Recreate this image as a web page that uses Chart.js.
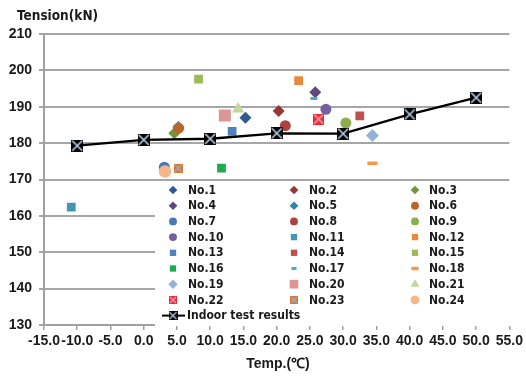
<!DOCTYPE html>
<html><head><meta charset="utf-8">
<script src="https://cdn.jsdelivr.net/npm/chart.js@4.4.1/dist/chart.umd.min.js"></script>
<style>html,body{margin:0;padding:0;background:#fff}#wrap{width:526px;height:385px;position:relative}</style>
</head><body><div id="wrap"><canvas id="c" width="526" height="385"></canvas></div>
<script>
const NARROW = "'Liberation Sans Narrow','DejaVu Sans Condensed','Liberation Sans',sans-serif";
const SANS = "'Liberation Sans',Arial,sans-serif";

// indoor test results (line)
const indoorTemp = [-10, 0, 10, 20, 30, 40, 50];
const indoorTension = [179.3, 180.9, 181.2, 182.7, 182.6, 187.9, 192.5];

// field records No.1 .. No.24
const fieldNames = ["No.1","No.2","No.3","No.4","No.5","No.6","No.7","No.8","No.9","No.10","No.11","No.12",
  "No.13","No.14","No.15","No.16","No.17","No.18","No.19","No.20","No.21","No.22","No.23","No.24"];
const fieldTemp = [15.3, 20.3, 4.6, 25.8, 5.2, 5.25, 3.1, 21.3, 30.4, 27.4, -10.9, 23.3,
  13.3, 32.5, 8.25, 11.7, 25.6, 34.4, 34.4, 12.2, 14.2, 26.3, 5.2, 3.2];
const fieldTension = [187.0, 188.8, 182.7, 194.0, 184.4, 184.1, 173.4, 184.8, 185.5, 189.3, 162.4, 197.2,
  183.2, 187.5, 197.6, 173.1, 192.3, 174.5, 182.1, 187.6, 189.4, 186.6, 173.1, 172.2];

// axes
const xMin = -15, xMax = 55, xStep = 5;
const yMin = 130, yMax = 210, yStep = 10;

// small "square with X" markers
function xSquare(size, fill, cross){
  const c = document.createElement("canvas");
  c.width = size; c.height = size;
  const g = c.getContext("2d");
  g.fillStyle = fill; g.fillRect(0,0,size,size);
  g.strokeStyle = cross; g.lineWidth = Math.max(1.2, size/7);
  g.beginPath(); g.moveTo(1,1); g.lineTo(size-1,size-1); g.moveTo(size-1,1); g.lineTo(1,size-1); g.stroke();
  return c;
}
const img22 = xSquare(11, "#f42a2a", "#d9a6c9");
const img23 = xSquare(9, "#dc762c", "#8db4e2");
const imgIndoor = xSquare(12, "#000000", "#b8cce4");
const img22s = xSquare(8, "#f42a2a", "#d9a6c9");
const img23s = xSquare(8, "#dc762c", "#8db4e2");
const imgIndoorS = xSquare(9, "#000000", "#b8cce4");

// marker look per series (style only)
const marks = [
  {s:"rectRot", r:6, c:"#2f5b8f"}, {s:"rectRot", r:6, c:"#953735"}, {s:"rectRot", r:6, c:"#76923c"},
  {s:"rectRot", r:6, c:"#5f497a"}, {s:"rectRot", r:6, c:"#31859c"}, {s:"circle", r:5.5, c:"#b8662a"},
  {s:"circle", r:5.5, c:"#4a78b4"}, {s:"circle", r:5.5, c:"#ac4340"}, {s:"circle", r:5.5, c:"#8cae4c"},
  {s:"circle", r:5.5, c:"#7660a0"}, {s:"rect", r:6.2, c:"#4197ae"}, {s:"rect", r:6.2, c:"#e8893f"},
  {s:"rect", r:6.2, c:"#4f81bd"}, {s:"rect", r:6.2, c:"#c0504d"}, {s:"rect", r:6.2, c:"#9bbb59"},
  {s:"rect", r:6.2, c:"#1faa50"}, {s:"line", r:3.5, c:"#4bacc6", bw:3}, {s:"line", r:5, c:"#f79646", bw:3.5},
  {s:"rectRot", r:6.5, c:"#95b3d7"}, {s:"rect", r:8.5, c:"#d99694"}, {s:"triangle", r:7, c:"#c3d69b"},
  {s:img22, r:6, c:"#f42a2a", img:img22s}, {s:img23, r:5, c:"#dc762c", img:img23s}, {s:"circle", r:6.2, c:"#f6b58b"}
];

const datasets = fieldNames.map((name,i)=>({
  type:"scatter",
  label:name,
  data:[{x:fieldTemp[i], y:fieldTension[i]}],
  pointStyle:marks[i].s,
  pointRadius:marks[i].r,
  pointHoverRadius:marks[i].r,
  pointBackgroundColor:marks[i].c,
  pointBorderColor:marks[i].c,
  pointBorderWidth:marks[i].bw || 0,
  order:-i
}));
datasets.push({
  type:"line",
  label:"Indoor test results",
  data:indoorTemp.map((t,i)=>({x:t, y:indoorTension[i]})),
  borderColor:"#000", borderWidth:2.3, tension:0, fill:false,
  pointStyle:imgIndoor, pointRadius:6, pointHoverRadius:6,
  order:-40
});

function drawMark(ctx, m, x, y){
  if (m.img){ ctx.drawImage(m.img, x - m.img.width/2, y - m.img.height/2); return; }
  ctx.fillStyle = m.c; ctx.strokeStyle = m.c; ctx.lineWidth = m.bw || 0;
  Chart.helpers.drawPoint(ctx, {pointStyle:m.s, radius:m.r*0.72, rotation:0, borderWidth:m.bw || 0}, x, y);
}

const boxLegend = {
  id:"boxLegend",
  afterDraw(chart){
    const ctx = chart.ctx;
    ctx.save();
    ctx.fillStyle = "#fff";
    ctx.fillRect(155, 182, 362, 144);
    const colMark = [173, 294, 415], colText = [188, 309, 429];
    ctx.font = "bold 12px " + NARROW;
    ctx.textBaseline = "middle";
    fieldNames.forEach((n,i)=>{
      const col = i % 3, row = Math.floor(i/3);
      const y = 190 + row*15.7;
      drawMark(ctx, marks[i], colMark[col], y);
      ctx.fillStyle = "#1a1a1a";
      ctx.fillText(n, colText[col], y + 0.5);
    });
    const yi = 190 + 8*15.7;
    ctx.strokeStyle = "#000"; ctx.lineWidth = 2;
    ctx.beginPath(); ctx.moveTo(162, yi); ctx.lineTo(185, yi); ctx.stroke();
    ctx.drawImage(imgIndoorS, 173 - 4.5, yi - 4.5);
    ctx.fillStyle = "#1a1a1a";
    ctx.fillText("Indoor test results", 187, yi);

    // axis titles
    ctx.font = "bold 13.5px " + NARROW;
    ctx.textBaseline = "middle"; ctx.textAlign = "left";
    ctx.fillText("Tension(kN)", 17, 16);
    ctx.font = "bold 14px " + SANS;
    ctx.textAlign = "center";
    ctx.fillText("Temp.(\u2103)", 278, 364);
    ctx.restore();
  }
};

new Chart(document.getElementById("c"), {
  data:{datasets},
  options:{
    responsive:false, animation:false,
    layout:{padding:{top:34, right:14, left:0, bottom:0}},
    plugins:{legend:{display:false}, tooltip:{enabled:false}},
    scales:{
      x:{type:"linear", min:xMin, max:xMax,
        ticks:{stepSize:xStep, autoSkip:false, maxRotation:0, padding:3, color:"#1a1a1a",
          font:{family:SANS, size:14, weight:"bold"}, callback:v=>v.toFixed(1)},
        grid:{display:true, drawOnChartArea:false, drawTicks:true, tickLength:5, color:"#a0a0a0", lineWidth:1.5},
        border:{display:true, color:"#a0a0a0", width:2},
        afterFit(s){ s.height = 60; }
      },
      y:{type:"linear", min:yMin, max:yMax,
        ticks:{stepSize:yStep, padding:7, color:"#1a1a1a", font:{family:SANS, size:14, weight:"bold"}},
        grid:{color:"#a6a6a6", lineWidth:2, tickLength:5},
        border:{display:true, color:"#a0a0a0", width:2},
        afterFit(s){ s.width = 44; }
      }
    }
  },
  plugins:[boxLegend]
});
</script>
</body></html>
